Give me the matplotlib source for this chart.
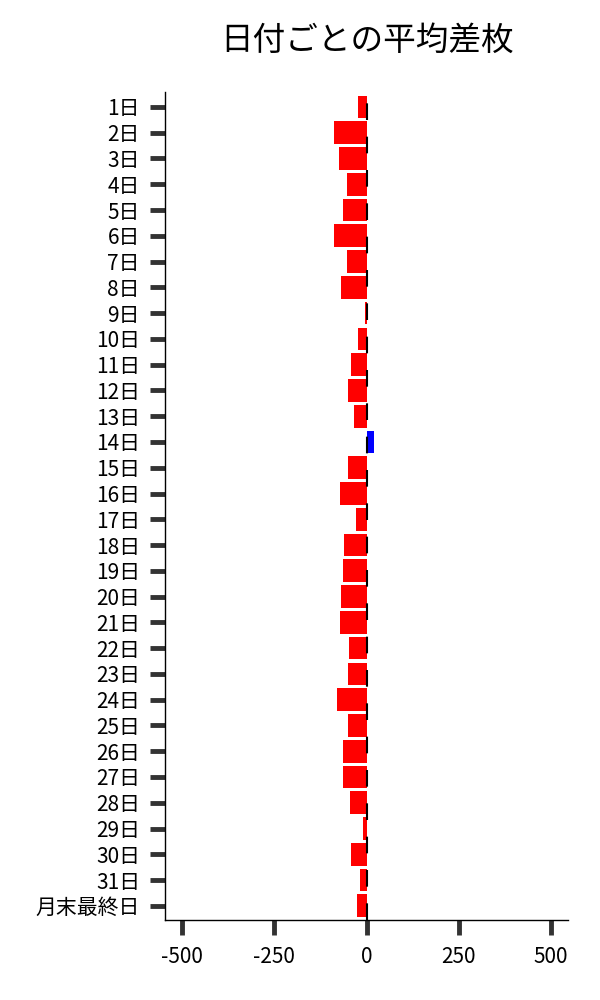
import matplotlib
matplotlib.use("Agg")
import matplotlib.pyplot as plt

plt.rcParams['font.family'] = ['Noto Sans CJK JP', 'DejaVu Sans']
plt.rcParams['axes.unicode_minus'] = False

# 日付ラベルと平均差枚
days = [f'{d}日' for d in range(1, 32)] + ['月末最終日']
avg_diff = [-24, -89, -76, -54, -65, -89, -54, -68, -5, -22,
            -41, -51, -33, 19, -51, -73, -30, -62, -65, -68,
            -73, -49, -51, -79, -51, -65, -65, -46, -11, -41,
            -19, -27]
x_ticks = [-500, -250, 0, 250, 500]

colors = ['blue' if v > 0 else 'red' for v in avg_diff]

fig = plt.figure(figsize=(6, 10), dpi=100)
ax = fig.add_axes([0.275, 0.08, 0.672, 0.828])

ax.barh(range(len(days)), avg_diff, height=0.88, color=colors)
ax.axvline(0, color='black', linewidth=1.5, linestyle=(0, (8, 8)))

ax.set_yticks(range(len(days)))
ax.set_yticklabels(days)
ax.set_ylim(len(days) - 0.45, -0.58)
ax.set_xticks(x_ticks)
ax.set_xticklabels([str(t) for t in x_ticks])
ax.set_xlim(-546, 546)

ax.tick_params(axis='both', length=11, width=3.5, color='#333333', labelsize=15)
ax.tick_params(axis='y', pad=7)
ax.tick_params(axis='x', pad=8)

for side in ['top', 'right']:
    ax.spines[side].set_visible(False)
for side in ['left', 'bottom']:
    ax.spines[side].set_linewidth(1.0)
    ax.spines[side].set_color('black')

ax.set_title('日付ごとの平均差枚', fontsize=23.5, pad=30)

fig.savefig('out.png', dpi=100)
